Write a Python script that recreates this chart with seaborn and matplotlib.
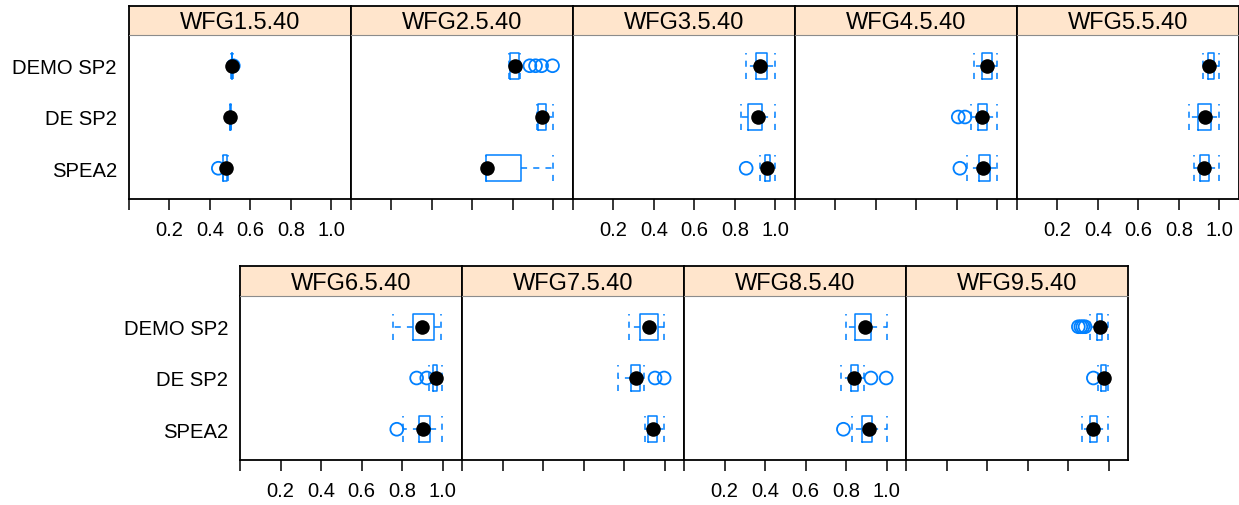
import numpy as np
import pandas as pd
import matplotlib
matplotlib.use("Agg")
import matplotlib.pyplot as plt
import seaborn as sns

sns.set_theme(style="white")
plt.rcParams['font.family'] = ['Liberation Sans', 'DejaVu Sans']

# ---------------- data ----------------
problems = ["WFG1.5.40", "WFG2.5.40", "WFG3.5.40", "WFG4.5.40", "WFG5.5.40",
            "WFG6.5.40", "WFG7.5.40", "WFG8.5.40", "WFG9.5.40"]
algorithms = ["DEMO SP2", "DE SP2", "SPEA2"]

# per problem: values for [DEMO SP2, DE SP2, SPEA2]
whisker_low = [[0.507, 0.499, 0.464], [0.782, 0.917, 0.667], [0.853, 0.828, 0.923],
               [0.886, 0.869, 0.851], [0.920, 0.849, 0.874], [0.754, 0.933, 0.803],
               [0.826, 0.772, 0.904], [0.800, 0.775, 0.828], [0.909, 0.950, 0.871]]
quart_1 = [[0.508, 0.500, 0.467], [0.788, 0.922, 0.667], [0.904, 0.866, 0.948],
           [0.923, 0.905, 0.907], [0.945, 0.895, 0.905], [0.853, 0.955, 0.882],
           [0.879, 0.835, 0.920], [0.844, 0.823, 0.877], [0.942, 0.965, 0.909]]
median = [[0.509, 0.502, 0.480], [0.810, 0.943, 0.673], [0.922, 0.912, 0.961],
          [0.950, 0.922, 0.930], [0.950, 0.928, 0.925], [0.900, 0.968, 0.905],
          [0.923, 0.859, 0.945], [0.894, 0.841, 0.915], [0.958, 0.976, 0.925]]
quart_3 = [[0.511, 0.503, 0.483], [0.831, 0.963, 0.840], [0.961, 0.935, 0.973],
           [0.976, 0.947, 0.963], [0.973, 0.958, 0.948], [0.958, 0.975, 0.938],
           [0.970, 0.879, 0.965], [0.923, 0.858, 0.930], [0.966, 0.986, 0.942]]
whisker_high = [[0.513, 0.505, 0.488], [0.835, 0.996, 0.996], [0.998, 0.998, 0.998],
                [0.999, 0.999, 0.999], [0.999, 0.999, 0.999], [0.993, 0.996, 0.996],
                [0.998, 0.900, 0.998], [1.000, 0.891, 1.000], [0.995, 0.995, 0.995]]
outliers = [[[0.516], [], [0.442]],
            [[0.884, 0.912, 0.942, 0.996], [], []],
            [[], [], [0.856]],
            [[], [0.807, 0.840], [0.815]],
            [[], [], []],
            [[], [0.872, 0.922], [0.774]],
            [[], [0.953, 0.998], []],
            [[], [0.923, 0.998], [0.787]],
            [[0.851, 0.863, 0.873, 0.884], [0.925], []]]

x_ticks = [0.0, 0.2, 0.4, 0.6, 0.8, 1.0]
x_ticklabels = ["", "0.2", "0.4", "0.6", "0.8", "1.0"]

# ---------------- styling / layout ----------------
BLUE = "#0080ff"
STRIP = "#ffe5cc"
W, H = 1239, 506
fig = plt.figure(figsize=(W / 100, H / 100), dpi=100)

PW = 222.0
rows = [dict(left=128.8, n=5, strip_top=7, top=36, bottom=200, start=0),
        dict(left=240.0, n=4, strip_top=267, top=297, bottom=461, start=5)]
positions = {"DEMO SP2": 3, "DE SP2": 2, "SPEA2": 1}
dash = (0, (4, 4))

for r in rows:
    for i in range(r["n"]):
        k = r["start"] + i
        left = r["left"] + i * PW
        ax = fig.add_axes([left / W, 1 - r["bottom"] / H, PW / W,
                           (r["bottom"] - r["top"]) / H])
        sax = fig.add_axes([left / W, 1 - r["top"] / H, PW / W,
                            (r["top"] - r["strip_top"]) / H])

        stats = []
        pos = []
        for j, alg in enumerate(algorithms):
            stats.append(dict(whislo=whisker_low[k][j], q1=quart_1[k][j],
                              med=median[k][j], q3=quart_3[k][j],
                              whishi=whisker_high[k][j], fliers=[]))
            pos.append(positions[alg])
        ax.bxp(stats, positions=pos, widths=0.5, capwidths=0.5,
               orientation="horizontal", showfliers=False, manage_ticks=False,
               boxprops=dict(color=BLUE, lw=1.1),
               whiskerprops=dict(color=BLUE, lw=1.1, linestyle=dash),
               capprops=dict(color=BLUE, lw=1.1, linestyle=dash),
               medianprops=dict(visible=False))

        # outliers (open circles)
        ox, oy = [], []
        for j, alg in enumerate(algorithms):
            for v in outliers[k][j]:
                ox.append(v)
                oy.append(positions[alg])
        if ox:
            sns.scatterplot(x=ox, y=oy, ax=ax, marker="o", s=85,
                            facecolor="none", edgecolor=BLUE, linewidth=1.3,
                            zorder=3)
        # medians (filled black dots)
        mdf = pd.DataFrame({"alg": algorithms, "med": median[k]})
        mdf["pos"] = mdf["alg"].map(positions)
        sns.scatterplot(data=mdf, x="med", y="pos", ax=ax, marker="o", s=110,
                        color="black", edgecolor="black", linewidth=0,
                        zorder=4)

        ax.set_xlim(0, 1.096)
        ax.set_ylim(0.4, 3.6)
        ax.set_xlabel("")
        ax.set_ylabel("")
        ax.set_facecolor("white")
        for sp in ["left", "right", "bottom"]:
            ax.spines[sp].set_visible(True)
            ax.spines[sp].set_color("black")
            ax.spines[sp].set_linewidth(1.3)
        ax.spines["top"].set_visible(False)

        ax.set_xticks(x_ticks)
        ax.tick_params(axis="x", which="both", bottom=True, direction="out",
                       length=8, width=1.1, color="black", pad=7,
                       labelsize=14.5, labelcolor="black")
        if i % 2 == 0:
            ax.set_xticklabels(x_ticklabels)
        else:
            ax.set_xticklabels([""] * len(x_ticks))

        ax.set_yticks([positions[a] for a in algorithms])
        if i == 0:
            ax.set_yticklabels(algorithms)
        else:
            ax.set_yticklabels([""] * 3)
        ax.tick_params(axis="y", left=False, length=0, pad=8.5,
                       labelsize=14.6, labelcolor="black")

        # strip
        sax.set_facecolor(STRIP)
        sax.set_xticks([])
        sax.set_yticks([])
        for sp in ["left", "right", "top"]:
            sax.spines[sp].set_visible(True)
            sax.spines[sp].set_color("black")
            sax.spines[sp].set_linewidth(1.3)
        sax.spines["bottom"].set_visible(True)
        sax.spines["bottom"].set_color("#8c8c8c")
        sax.spines["bottom"].set_linewidth(0.8)
        sax.text(0.5, 0.45, problems[k], transform=sax.transAxes,
                 ha="center", va="center", fontsize=17, color="black")

fig.savefig("out.png", dpi=100, facecolor="white")
